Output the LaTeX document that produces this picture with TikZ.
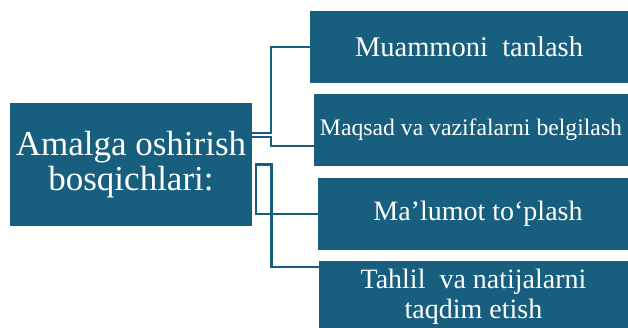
\documentclass[tikz,border=0pt]{standalone}
\usepackage{fontspec}
\setmainfont{Liberation Serif}
\definecolor{boxblue}{RGB}{24,94,126}
\tikzset{
  stagebox/.style={rectangle, fill=boxblue, text=white, inner sep=0pt, align=center},
  conn/.style={draw=boxblue, line width=2.2pt, line cap=rect}
}
\begin{document}
\begin{tikzpicture}[x=1pt,y=-1pt]
\useasboundingbox (0,0) rectangle (628,327);
\clip (0,0) rectangle (628,327);
\node[stagebox, minimum width=242pt, minimum height=123pt,
      font=\fontsize{35}{36.3}\selectfont] (main) at (131,164.5)
  {\raisebox{-2pt}{Amalga oshirish}\\bosqichlari:};
\node[stagebox, minimum width=318pt, minimum height=72pt,
      font=\fontsize{28.5}{30}\selectfont] (s1) at (469,47)
  {Muammoni\ \ tanlash};
\node[stagebox, minimum width=314pt, minimum height=72pt,
      font=\fontsize{23.7}{26}\selectfont] (s2) at (471,130)
  {Maqsad va vazifalarni belgilash};
\node[stagebox, minimum width=310pt, minimum height=72pt,
      font=\fontsize{28}{30}\selectfont] (s3) at (473,214)
  {\hspace*{10pt}Ma’lumot to‘plash};
\node[stagebox, minimum width=309pt, minimum height=72pt,
      font=\fontsize{28}{30}\selectfont] (s4) at (473.5,297)
  {Tahlil\ \ va natijalarni\\taqdim etish};
\draw[conn] (main.east |- 0,132.7) -- (270.7,132.7) |- (s1.west);
\draw[conn] (main.east |- 0,137.3) -- (270.7,137.3) |- (s2.west |- 0,146);
\draw[conn] ([xshift=3.5pt]main.east) |- (s3.west);
\draw[conn] ([xshift=3.5pt]main.east) -| (271.5,267) -- (s4.west |- 0,267);
\end{tikzpicture}
\end{document}
